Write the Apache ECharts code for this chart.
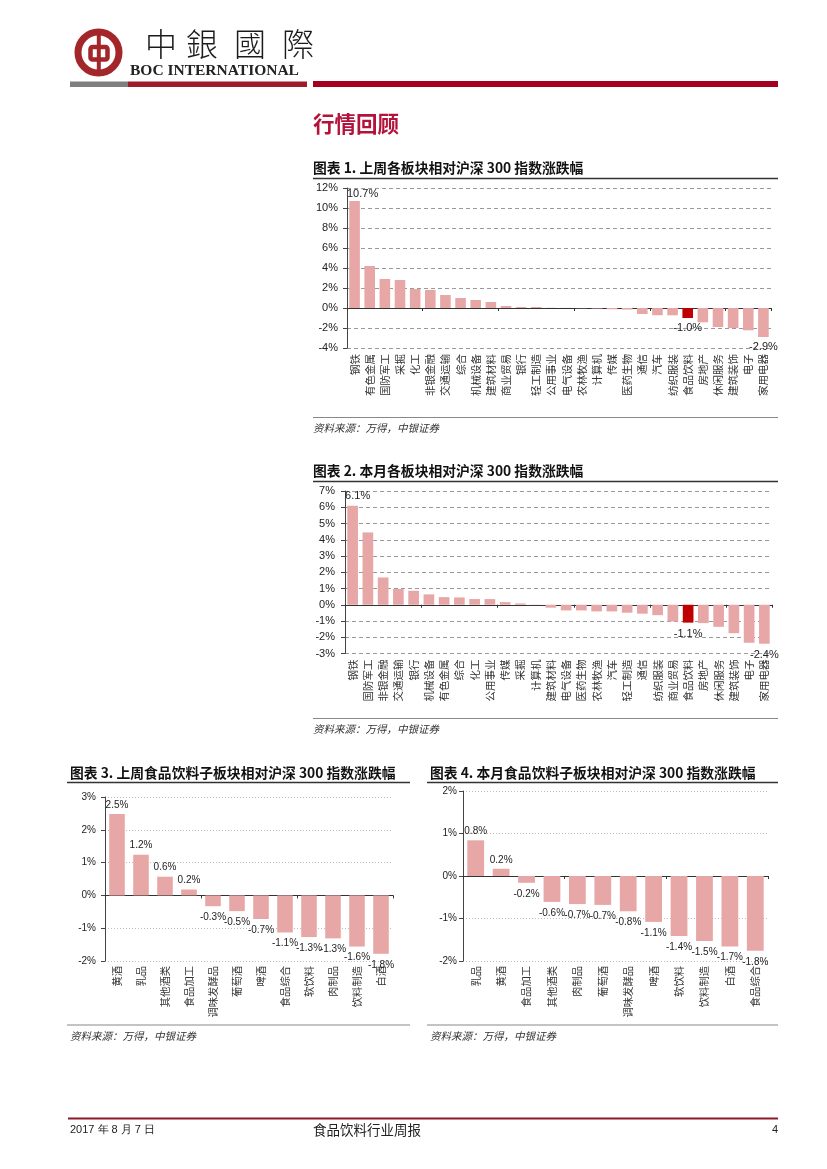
<!DOCTYPE html>
<html>
<head>
<meta charset="utf-8">
<script src="https://cdn.jsdelivr.net/npm/echarts@6/dist/echarts.min.js"></script>
<style>
html,body{margin:0;padding:0;background:#fff;}
#c{width:827px;height:1169px;}
</style>
</head>
<body>
<div id="c"></div>
<script>
// ---- Data ----
const cats1 = ['钢铁','有色金属','国防军工','采掘','化工','非银金融','交通运输','综合','机械设备','建筑材料','商业贸易','银行','轻工制造','公用事业','电气设备','农林牧渔','计算机','传媒','医药生物','通信','汽车','纺织服装','食品饮料','房地产','休闲服务','建筑装饰','电子','家用电器'];
const vals1 = [10.7,4.2,2.9,2.8,1.9,1.8,1.3,1.0,0.8,0.6,0.2,0.1,0.1,0.02,0.01,-0.02,-0.05,-0.13,-0.16,-0.6,-0.72,-0.73,-1.0,-1.43,-1.9,-2.0,-2.23,-2.9];
const labelIdx1 = [0,22,27];

const cats2 = ['钢铁','国防军工','非银金融','交通运输','银行','机械设备','有色金属','综合','化工','公用事业','传媒','采掘','计算机','建筑材料','电气设备','医药生物','农林牧渔','汽车','轻工制造','通信','纺织服装','商业贸易','食品饮料','房地产','休闲服务','建筑装饰','电子','家用电器'];
const vals2 = [6.1,4.45,1.68,0.97,0.86,0.64,0.47,0.45,0.35,0.35,0.16,0.08,-0.02,-0.18,-0.35,-0.35,-0.41,-0.41,-0.49,-0.55,-0.64,-1.03,-1.1,-1.13,-1.36,-1.75,-2.34,-2.4];
const labelIdx2 = [0,22,27];

const cats3 = ['黄酒','乳品','其他酒类','食品加工','调味发酵品','葡萄酒','啤酒','食品综合','软饮料','肉制品','饮料制造','白酒'];
const vals3 = [2.48,1.24,0.57,0.18,-0.33,-0.48,-0.72,-1.13,-1.27,-1.31,-1.56,-1.78];

const cats4 = ['乳品','黄酒','食品加工','其他酒类','肉制品','葡萄酒','调味发酵品','啤酒','软饮料','饮料制造','白酒','食品综合'];
const vals4 = [0.84,0.17,-0.16,-0.61,-0.66,-0.68,-0.83,-1.08,-1.41,-1.53,-1.66,-1.76];

const highlightCat = '食品饮料';

const PINK = '#e8a7a7';
const DARK = '#c00000';
const CJK = '"Noto Sans CJK SC", sans-serif';
const LAT = '"Liberation Sans", Arial, sans-serif';

function pct(v){ return v.toFixed(1) + '%'; }

function buildData(cats, vals, labelIdx, opt){
  return vals.map(function(v, i){
    const item = { value: v };
    if (cats[i] === highlightCat) item.itemStyle = { color: DARK };
    const show = labelIdx ? labelIdx.indexOf(i) >= 0 : true;
    item.label = {
      show: show,
      position: v >= 0 ? 'top' : 'bottom',
      distance: v >= 0 ? opt.dTop : opt.dBot,
      offset: (i === 0 && opt.firstOffset) ? opt.firstOffset : [0,0],
      formatter: function(p){ return pct(p.value); },
      fontSize: opt.labelSize,
      fontFamily: LAT,
      color: '#222'
    };
    return item;
  });
}

const grids = [
  { left: 347, top: 188, width: 424, height: 160 },
  { left: 345, top: 491, width: 427, height: 162.5 },
  { left: 105, top: 797, width: 288, height: 164 },
  { left: 463, top: 791, width: 305, height: 170 }
];

const charts = [
  { cats: cats1, vals: vals1, labelIdx: labelIdx1, min: -4, max: 12, interval: 2, dashed: true, tickSize: 11, ylMargin: 9, labelSize: 11, barW: '70%', dTop: 2, dBot: 4, firstOffset: [8, 0], catMargin: 6, catSize: 10.5 },
  { cats: cats2, vals: vals2, labelIdx: labelIdx2, min: -3, max: 7, interval: 1, dashed: true, tickSize: 11, ylMargin: 10, labelSize: 11, barW: '70%', dTop: 4, dBot: 6, firstOffset: [5, 0], catMargin: 6, catSize: 10.5 },
  { cats: cats3, vals: vals3, labelIdx: null, min: -2, max: 3, interval: 1, dashed: false, tickSize: 10, ylMargin: 9, labelSize: 10, barW: '65%', dTop: 4, dBot: 6, firstOffset: null, catMargin: 5, catSize: 10.3 },
  { cats: cats4, vals: vals4, labelIdx: null, min: -2, max: 2, interval: 1, dashed: false, tickSize: 10, ylMargin: 6, labelSize: 10, barW: '66%', dTop: 4, dBot: 6, firstOffset: null, catMargin: 5, catSize: 10.3 }
];

const xAxes = [], yAxes = [], series = [];
charts.forEach(function(c, g){
  xAxes.push({
    gridIndex: g, type: 'category', data: c.cats, position: 'bottom',
    axisLine: { show: true, onZero: true, lineStyle: { color: '#333', width: 1 } },
    axisTick: { show: true, length: 3, lineStyle: { color: '#333' } },
    axisLabel: { show: false },
    splitLine: { show: false }
  });
  xAxes.push({
    gridIndex: g, type: 'category', data: c.cats, position: 'bottom',
    axisLine: { show: false, onZero: false },
    axisTick: { show: false },
    axisLabel: { show: true, interval: 0, rotate: 90, fontSize: c.catSize, margin: c.catMargin, fontFamily: CJK, color: '#333' },
    splitLine: { show: false }
  });
  yAxes.push({
    gridIndex: g, type: 'value', min: c.min, max: c.max, interval: c.interval,
    axisLine: { show: true, lineStyle: { color: '#444', width: 1 } },
    axisTick: { show: true, length: 4, lineStyle: { color: '#444' } },
    axisLabel: { formatter: '{value}%', fontSize: c.tickSize, margin: c.ylMargin, color: '#222', fontFamily: LAT },
    splitLine: { show: true, lineStyle: c.dashed ? { type: [4, 3], color: '#9a9a9a', width: 1 } : { type: [1, 2], color: '#bdbdbd', width: 1 } }
  });
  series.push({
    type: 'bar', xAxisIndex: 2 * g, yAxisIndex: g,
    data: buildData(c.cats, c.vals, c.labelIdx, c),
    barWidth: c.barW,
    itemStyle: { color: PINK },
    animation: false
  });
});

function txt(x, y, text, size, opts){
  opts = opts || {};
  return {
    type: 'text', x: x, y: y, silent: true,
    style: {
      text: text, fontSize: size,
      fontFamily: opts.font || CJK,
      fontWeight: opts.weight || 'normal',
      fontStyle: opts.style || 'normal',
      fill: opts.color || '#111',
      align: opts.align || 'left',
      verticalAlign: 'middle'
    }
  };
}
function hline(x1, x2, y, color, w){
  return { type: 'line', silent: true, shape: { x1: x1, y1: y, x2: x2, y2: y }, style: { stroke: color, lineWidth: w } };
}
function rect(x, y, w, h, color){
  return { type: 'rect', silent: true, shape: { x: x, y: y, width: w, height: h }, style: { fill: color } };
}

const LOGO = '#a3262a';
const TC = '"Noto Sans CJK TC", sans-serif';
const graphic = [
  // logo
  { type: 'circle', silent: true, shape: { cx: 98.5, cy: 52.5, r: 20.5 }, style: { fill: 'none', stroke: LOGO, lineWidth: 7 } },
  { type: 'rect', silent: true, shape: { x: 90.5, y: 47, width: 17, height: 12.5, r: 2 }, style: { fill: 'none', stroke: LOGO, lineWidth: 4.5 } },
  rect(96.8, 30, 4, 45, LOGO),
  txt(145, 44, '中', 32, { font: TC, weight: 300, color: '#1b1b1b' }),
  txt(186, 44, '銀', 32, { font: TC, weight: 300, color: '#1b1b1b' }),
  txt(234, 44, '國', 32, { font: TC, weight: 300, color: '#1b1b1b' }),
  txt(282, 44, '際', 32, { font: TC, weight: 300, color: '#1b1b1b' }),
  txt(130, 70.5, 'BOC INTERNATIONAL', 15.5, { font: '"Liberation Serif", serif', weight: 'bold', color: '#222' }),
  rect(70, 81.5, 58, 5.5, '#7f7f7f'),
  rect(128, 81.5, 179, 5.5, '#9e1b2a'),
  rect(313, 81, 465, 6, '#a50021'),
  // section header
  txt(313, 124, '行情回顾', 21.5, { weight: 'bold', color: '#b3123b' }),
  // chart 1
  txt(313, 168, '图表 1. 上周各板块相对沪深 300 指数涨跌幅', 13.8, { weight: 'bold', color: '#111' }),
  hline(313, 778, 178.5, '#333', 1.5),
  hline(313, 778, 417.5, '#888', 1),
  txt(313, 428.5, '资料来源：万得，中银证券', 10.5, { style: 'italic', color: '#333' }),
  // chart 2
  txt(313, 471, '图表 2. 本月各板块相对沪深 300 指数涨跌幅', 13.8, { weight: 'bold', color: '#111' }),
  hline(313, 778, 481.5, '#333', 1.5),
  hline(313, 778, 718.5, '#888', 1),
  txt(313, 729.5, '资料来源：万得，中银证券', 10.5, { style: 'italic', color: '#333' }),
  // chart 3
  txt(70, 772.5, '图表 3. 上周食品饮料子板块相对沪深 300 指数涨跌幅', 13.8, { weight: 'bold', color: '#111' }),
  hline(67, 410, 782.5, '#333', 1.5),
  hline(67, 410, 1025, '#888', 1),
  txt(70, 1036, '资料来源：万得，中银证券', 10.5, { style: 'italic', color: '#333' }),
  // chart 4
  txt(430, 772.5, '图表 4. 本月食品饮料子板块相对沪深 300 指数涨跌幅', 13.8, { weight: 'bold', color: '#111' }),
  hline(427, 778, 782.5, '#333', 1.5),
  hline(427, 778, 1025, '#888', 1),
  txt(430, 1036, '资料来源：万得，中银证券', 10.5, { style: 'italic', color: '#333' }),
  // footer
  hline(68, 778, 1118.5, '#8b1a2b', 2),
  txt(70, 1129.5, '2017 年 8 月 7 日', 11, { font: LAT, color: '#222' }),
  txt(313, 1129.5, '食品饮料行业周报', 13.5, { color: '#222' }),
  txt(778, 1129.5, '4', 11, { font: LAT, color: '#222', align: 'right' })
];

const chart = echarts.init(document.getElementById('c'), null, { renderer: 'canvas', width: 827, height: 1169 });
chart.setOption({
  backgroundColor: '#ffffff',
  animation: false,
  grid: grids,
  xAxis: xAxes,
  yAxis: yAxes,
  series: series,
  graphic: graphic
});
</script>
</body>
</html>
